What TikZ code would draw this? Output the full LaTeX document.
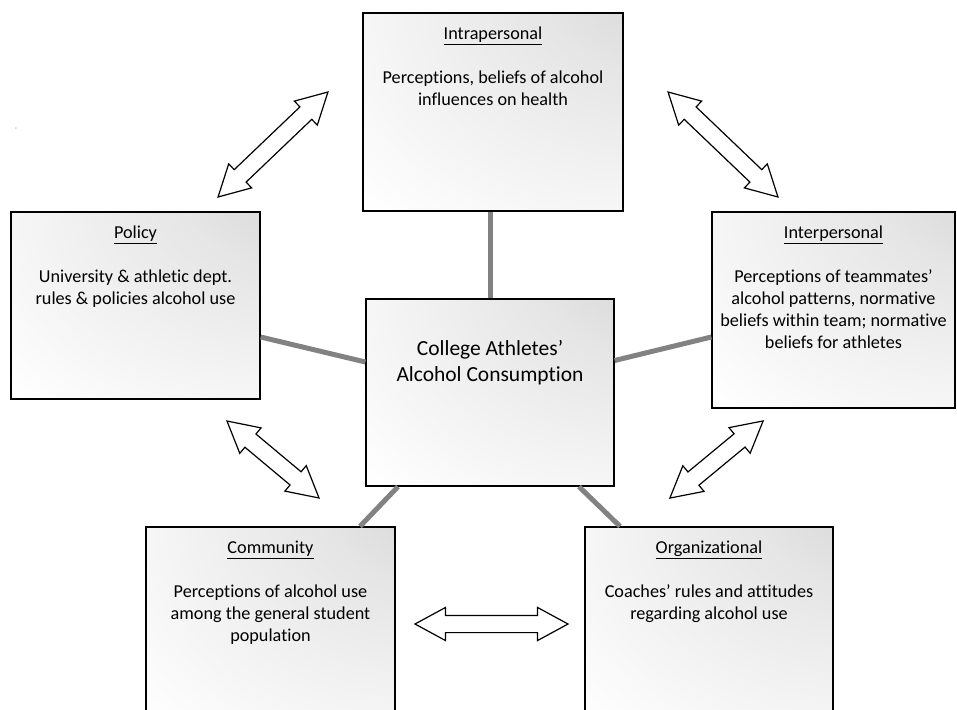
\documentclass[tikz,border=0pt]{standalone}
\usepackage{fontspec}
\setmainfont{Carlito}[Ligatures={TeX,NoCommon}]
\usetikzlibrary{positioning,shapes.arrows}
\definecolor{linkgray}{RGB}{130,130,130}
\pgfdeclareradialshading{cornerglow}{\pgfpoint{45bp}{45bp}}{color(0bp)=(black!21); color(25bp)=(black!10); color(60bp)=(white); color(100bp)=(white)}

\begin{document}
\begin{tikzpicture}[x=1pt,y=-1pt,
        levelbox/.style={draw,line width=1.3pt,shade,shading=cornerglow,inner sep=0pt},
        leveltext/.style={anchor=north,align=center,inner sep=0pt,font=\fontsize{18.2}{22}\selectfont},
        link/.style={draw=linkgray,line width=5pt},
        twoway/.style={double arrow,draw,fill=white,line width=1.2pt,inner xsep=0pt,inner ysep=8pt,minimum width=32pt,
            double arrow head extend=8pt,double arrow tip angle=57}]
    \useasboundingbox (0,0) rectangle (957,709);
                \node[levelbox,minimum width=260pt,minimum height=198pt] (intra) at (493,112) {};
                \node[levelbox,minimum width=249pt,minimum height=187pt] (policy) at (135.5,305.5) {};
                \node[levelbox,minimum width=243pt,minimum height=196pt] (inter) at (833.5,310) {};
                \node[levelbox,minimum width=248pt,minimum height=187pt] (core) at (490,392.5) {};
                \node[levelbox,minimum width=249pt,minimum height=200pt] (community) at (270.5,627) {};
                \node[levelbox,minimum width=248pt,minimum height=200pt] (org) at (709,627) {};
                \node[leveltext,below=14.5pt of intra.north] (intratext) {\underline{Intrapersonal}\\[22pt]Perceptions, beliefs of alcohol\\influences on health};
                \node[leveltext,below=14.5pt of policy.north] (policytext) {\underline{Policy}\\[22pt]University \& athletic dept.\\rules \& policies alcohol use};
                \node[leveltext,below=14.5pt of inter.north] (intertext) {\underline{Interpersonal}\\[22pt]Perceptions of teammates’\\alcohol patterns, normative\\beliefs within team; normative\\beliefs for athletes};
                \node[leveltext,below=42pt of core.north,font=\fontsize{21.5}{26}\selectfont] (coretext) {College Athletes’\\Alcohol Consumption};
                \node[leveltext,below=14.5pt of community.north] (communitytext) {\underline{Community}\\[22pt]Perceptions of alcohol use\\among the general student\\population};
                \node[leveltext,below=14.5pt of org.north] (orgtext) {\underline{Organizational}\\[22pt]Coaches’ rules and attitudes\\regarding alcohol use};
                \draw[link] (core.north) -- (core.north |- intra.south);
                \draw[link] ([yshift=-31.5pt]policy.east) -- ([yshift=30.5pt]core.west);
                \draw[link] ([yshift=32pt]core.east) -- ([yshift=-27pt]inter.west);
                \draw[link] ([xshift=-92pt]core.south) -- ([xshift=89.5pt]community.north);
                \draw[link] ([xshift=89pt]core.south) -- ([xshift=-89pt]org.north);
                \node[twoway,minimum height=152pt,rotate=43.7] (policyintra) at (273,144.5) {};
                \node[twoway,minimum height=152pt,rotate=-43.7] (intrainter) at (723,144.5) {};
                \node[twoway,minimum height=120pt,rotate=-39.9] (policycommunity) at (273,459.5) {};
                \node[twoway,minimum height=121pt,rotate=39.6] (interorg) at (716.5,459.5) {};
                \node[twoway,minimum height=153pt] (communityorg) at (491.5,624) {};
                \node[font=\scriptsize,text=gray] (dash) at (16,129) {-};
            \end{tikzpicture}
\end{document}
